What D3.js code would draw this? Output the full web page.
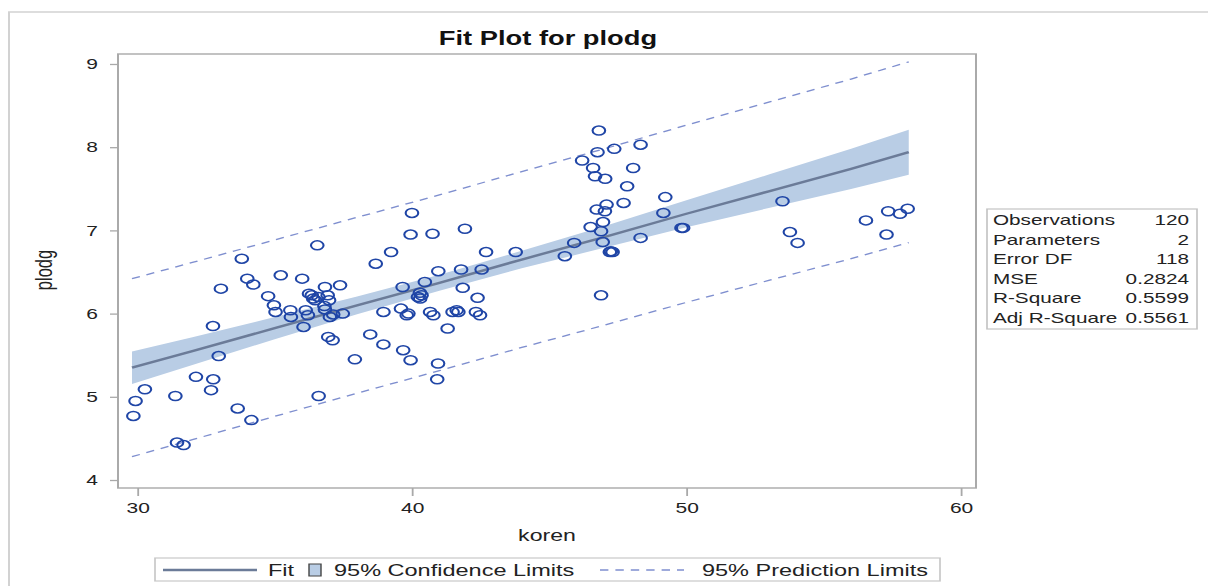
<!DOCTYPE html>
<html>
<head>
<meta charset="utf-8">
<script src="https://cdn.jsdelivr.net/npm/d3@7"></script>
<style>
  html, body { margin: 0; padding: 0; background: #fff; }
  svg { display: block; font-family: "Liberation Sans", Arial, sans-serif; }
</style>
</head>
<body>
<svg id="chart"></svg>
<script>
// observations (koren, plodg)
const koren = [
  36.55, 33.80, 34.00, 34.22, 33.04, 35.22, 36.00, 38.68, 39.24, 39.95,
  34.76, 34.97, 35.03, 35.57, 35.59, 36.13, 36.21, 36.05, 36.25, 36.35,
  36.47, 36.59, 36.83, 36.93, 36.98, 36.81, 36.83, 37.01, 37.13, 37.38,
  37.48, 39.66, 38.96, 39.60, 39.81, 39.87, 32.75, 32.96, 36.95, 37.11,
  38.48, 38.96, 39.68, 39.95, 37.92, 32.13, 32.76, 32.68, 30.27, 29.93,
  29.85, 31.38, 36.60, 33.65, 34.15, 31.44, 31.68, 46.81, 46.76, 47.37,
  48.33, 46.20, 46.60, 46.67, 47.04, 48.06, 47.84, 40.00, 40.75, 41.93,
  42.70, 43.78, 45.57, 45.91, 46.73, 47.09, 47.03, 47.71, 49.23, 49.16,
  46.51, 46.96, 46.89, 46.95, 47.21, 47.31, 48.33, 49.82, 49.88, 46.89,
  40.96, 41.79, 42.54, 40.47, 40.29, 40.22, 40.35, 41.85, 42.39, 40.66,
  40.78, 41.48, 41.63, 41.69, 42.33, 42.48, 41.30, 53.50, 53.77, 54.05,
  56.54, 57.35, 57.78, 58.06, 57.29, 40.95, 40.92, 36.40, 40.30, 47.25
];
const plodg = [
  6.82, 6.66, 6.42, 6.35, 6.30, 6.46, 6.42, 6.60, 6.74, 6.95,
  6.21, 6.10, 6.02, 6.04, 5.96, 6.04, 5.98, 5.84, 6.24, 6.22,
  6.16, 6.20, 6.32, 6.22, 6.16, 6.09, 6.05, 5.96, 5.99, 6.34,
  6.00, 6.32, 6.02, 6.06, 5.98, 6.00, 5.85, 5.49, 5.72, 5.68,
  5.75, 5.63, 5.56, 5.44, 5.45, 5.24, 5.21, 5.08, 5.09, 4.95,
  4.77, 5.01, 5.01, 4.86, 4.72, 4.45, 4.42, 8.20, 7.94, 7.98,
  8.03, 7.84, 7.75, 7.65, 7.62, 7.75, 7.53, 7.21, 6.96, 7.02,
  6.74, 6.74, 6.69, 6.85, 7.25, 7.31, 7.23, 7.33, 7.40, 7.21,
  7.04, 7.10, 6.99, 6.86, 6.74, 6.74, 6.91, 7.03, 7.03, 6.22,
  6.51, 6.53, 6.53, 6.38, 6.25, 6.20, 6.22, 6.31, 6.19, 6.02,
  5.98, 6.02, 6.04, 6.02, 6.02, 5.98, 5.82, 7.35, 6.98, 6.85,
  7.12, 7.23, 7.20, 7.26, 6.95, 5.40, 5.21, 6.18, 6.18, 6.75
];

// fit line, confidence and prediction limits read along koren
const fitX    = [29.8, 32, 35, 38, 41, 44, 47, 50, 53, 56, 58.1];
const fitY    = [5.35, 5.55, 5.825, 6.10, 6.37, 6.65, 6.92, 7.20, 7.47, 7.74, 7.94];
const clLower = [5.155, 5.383, 5.692, 5.993, 6.274, 6.545, 6.790, 7.037, 7.269, 7.498, 7.669];
const clUpper = [5.545, 5.717, 5.958, 6.207, 6.466, 6.755, 7.050, 7.363, 7.671, 7.982, 8.211];
const plLower = [4.280, 4.485, 4.765, 5.043, 5.314, 5.593, 5.860, 6.135, 6.399, 6.661, 6.854];
const plUpper = [6.420, 6.615, 6.885, 7.157, 7.426, 7.707, 7.980, 8.265, 8.541, 8.819, 9.026];

const xTicks = [30, 40, 50, 60];
const yTicks = [4, 5, 6, 7, 8, 9];

const stats = [
  ['Observations', '120'],
  ['Parameters', '2'],
  ['Error DF', '118'],
  ['MSE', '0.2824'],
  ['R-Square', '0.5599'],
  ['Adj R-Square', '0.5561']
];

// the picture is stretched sideways, so draw in a narrower box and stretch it
const SX = 1.4;
const W = 1208 / SX, H = 586;
const px = v => v / SX;

const svg = d3.select('#chart')
  .attr('width', 1208).attr('height', H)
  .attr('viewBox', `0 0 ${W} ${H}`)
  .attr('preserveAspectRatio', 'none');

const plot = { left: px(118), right: px(976), top: 54, bottom: 488 };

const x = d3.scaleLinear().domain([29.29, 60.55]).range([plot.left, plot.right]);
const y = d3.scaleLinear().domain([3.904, 9.12]).range([plot.bottom, plot.top]);

// outer frame (left and top only)
svg.append('path')
  .attr('d', `M${px(9)},${H} V12 H${W}`)
  .attr('fill', 'none').attr('stroke', '#d2d2d2').attr('stroke-width', 1.4);

// title
svg.append('text')
  .attr('x', px(548)).attr('y', 45)
  .attr('text-anchor', 'middle')
  .attr('font-size', 19.5).attr('font-weight', 'bold').attr('fill', '#111')
  .text('Fit Plot for plodg');

// confidence band
const rows = fitX.map((v, i) => ({ x: v, fit: fitY[i], cl: clLower[i], cu: clUpper[i], pl: plLower[i], pu: plUpper[i] }));
svg.append('path')
  .datum(rows)
  .attr('fill', '#b9cde5')
  .attr('d', d3.area().x(d => x(d.x)).y0(d => y(d.cl)).y1(d => y(d.cu)));

// prediction limits
['pl', 'pu'].forEach(k => {
  svg.append('path')
    .datum(rows)
    .attr('fill', 'none').attr('stroke', '#7f8fcf').attr('stroke-width', 1.3)
    .attr('stroke-dasharray', '6,5')
    .attr('d', d3.line().x(d => x(d.x)).y(d => y(d[k])));
});

// fit line
svg.append('path')
  .datum(rows)
  .attr('fill', 'none').attr('stroke', '#6b7b98').attr('stroke-width', 2.4)
  .attr('d', d3.line().x(d => x(d.x)).y(d => y(d.fit)));

// points
svg.append('g')
  .selectAll('circle')
  .data(koren.map((v, i) => [v, plodg[i]]))
  .join('circle')
  .attr('cx', d => x(d[0])).attr('cy', d => y(d[1]))
  .attr('r', 4.5)
  .attr('fill', 'none').attr('stroke', '#1f45a6').attr('stroke-width', 1.5);

// plot frame
svg.append('rect')
  .attr('x', plot.left).attr('y', plot.top)
  .attr('width', plot.right - plot.left).attr('height', plot.bottom - plot.top)
  .attr('fill', 'none').attr('stroke', '#a9a9a9').attr('stroke-width', 1.4);

// axes
const yAxis = svg.append('g')
  .attr('transform', `translate(${plot.left},0)`)
  .call(d3.axisLeft(y).tickValues(yTicks).tickFormat(d3.format('d'))
    .tickSize(px(8)).tickPadding(px(12)));
const xAxis = svg.append('g')
  .attr('transform', `translate(0,${plot.bottom})`)
  .call(d3.axisBottom(x).tickValues(xTicks).tickFormat(d3.format('d'))
    .tickSize(8).tickPadding(6));
[xAxis, yAxis].forEach(g => {
  g.select('.domain').remove();
  g.selectAll('.tick line').attr('stroke', '#a9a9a9').attr('stroke-width', 1.3);
  g.selectAll('.tick text').attr('fill', '#222').attr('font-size', 15)
    .attr('font-family', '"Liberation Sans", Arial, sans-serif');
});

// axis labels
svg.append('text')
  .attr('x', px(547)).attr('y', 541)
  .attr('text-anchor', 'middle').attr('font-size', 16.5).attr('fill', '#222')
  .text('koren');
svg.append('text')
  .attr('transform', `translate(${px(52)},270) rotate(-90)`)
  .attr('text-anchor', 'middle').attr('font-size', 16.5).attr('fill', '#222')
  .text('plodg');

// fit statistics box
const sb = svg.append('g');
sb.append('rect')
  .attr('x', px(987)).attr('y', 209)
  .attr('width', px(210)).attr('height', 120)
  .attr('fill', '#fff').attr('stroke', '#c4c4c4').attr('stroke-width', 1.2);
stats.forEach((s, i) => {
  const yy = 225 + i * 19.6;
  sb.append('text').attr('x', px(993)).attr('y', yy)
    .attr('font-size', 14.8).attr('fill', '#222').text(s[0]);
  sb.append('text').attr('x', px(1189)).attr('y', yy)
    .attr('text-anchor', 'end').attr('font-size', 14.8).attr('fill', '#222').text(s[1]);
});

// legend
const lg = svg.append('g');
lg.append('rect')
  .attr('x', px(155)).attr('y', 558)
  .attr('width', px(785)).attr('height', 23)
  .attr('fill', '#fff').attr('stroke', '#c8c8c8').attr('stroke-width', 1.2);
lg.append('line')
  .attr('x1', px(163)).attr('x2', px(257)).attr('y1', 570).attr('y2', 570)
  .attr('stroke', '#6b7b98').attr('stroke-width', 2.4);
lg.append('text').attr('x', px(268)).attr('y', 576)
  .attr('font-size', 16.8).attr('fill', '#222').text('Fit');
lg.append('rect')
  .attr('x', px(309)).attr('y', 564).attr('width', px(12)).attr('height', 12)
  .attr('fill', '#b9cde5').attr('stroke', '#444').attr('stroke-width', 1);
lg.append('text').attr('x', px(334)).attr('y', 576)
  .attr('font-size', 16.8).attr('fill', '#222').text('95% Confidence Limits');
lg.append('line')
  .attr('x1', px(600)).attr('x2', px(684)).attr('y1', 570).attr('y2', 570)
  .attr('stroke', '#7f8fcf').attr('stroke-width', 1.3).attr('stroke-dasharray', '6,5');
lg.append('text').attr('x', px(702)).attr('y', 576)
  .attr('font-size', 16.8).attr('fill', '#222').text('95% Prediction Limits');
</script>
</body>
</html>
